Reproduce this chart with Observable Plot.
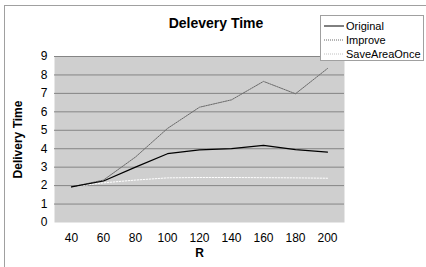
<!DOCTYPE html>
<html><head><meta charset="utf-8">
<script src="https://cdn.jsdelivr.net/npm/d3@7"></script>
<script src="https://cdn.jsdelivr.net/npm/@observablehq/plot@0.6"></script>
<style>
body{margin:0;background:#fff;font-family:"Liberation Sans",Arial,sans-serif;}
#wrap{position:relative;width:426px;height:267px;overflow:hidden;}
#border{position:absolute;left:4px;top:5px;width:440px;height:280px;border:1px solid #a0a0a0;box-sizing:border-box;}
#title{position:absolute;left:0;width:432px;top:15px;text-align:center;font-weight:bold;font-size:14px;}
#legend{position:absolute;left:320px;top:15px;width:104px;height:46px;border:1px solid #a0a0a0;background:#fff;box-sizing:border-box;font-size:11px;}
.li{position:absolute;left:3px;height:14px;display:flex;align-items:center;}
.li svg{margin-right:2px;}
</style></head>
<body><div id="wrap"><div id="border"></div><div id="chart"></div><div id="title">Delevery Time</div><div id="legend"></div></div>
<script>
const categories = [40, 60, 80, 100, 120, 140, 160, 180, 200];
const original = [1.93, 2.25, 3.0, 3.73, 3.94, 4.01, 4.18, 3.95, 3.82];
const improve = [1.93, 2.3, 3.55, 5.1, 6.25, 6.65, 7.65, 6.98, 8.35];
const saveAreaOnce = [1.93, 2.15, 2.3, 2.42, 2.44, 2.44, 2.43, 2.42, 2.4];
const yTicks = [0,1,2,3,4,5,6,7,8,9];
const seriesNames = ["Original", "Improve", "SaveAreaOnce"];
const seriesValues = [original, improve, saveAreaOnce];
const seriesStroke = ["#000", "#6a6a6a", "#ffffff"];
const legendStroke = ["#000", "#6a6a6a", "#c0c0c0"];
const seriesDash = [null, "1.5,1", "1.5,1.5"];
const seriesWidth = [1.25, 1, 1];

const rows = [];
seriesNames.forEach((s, i) => categories.forEach((c, j) => rows.push({series: s, R: c, v: seriesValues[i][j]})));

const W = 426, H = 267;
const chart = Plot.plot({
  width: W, height: H,
  marginLeft: 54, marginRight: 82, marginTop: 56, marginBottom: 45,
  style: {fontFamily: "'Liberation Sans', Arial, sans-serif", fontSize: "12px", background: "transparent", color: "#000"},
  x: {type: "point", domain: categories, padding: 0.5, label: null},
  y: {domain: [0, 9], label: null},
  marks: [
    Plot.frame({fill: "url(#chk)", stroke: null}),
    Plot.ruleY(yTicks.filter(d => d > 0), {stroke: "#858585", strokeWidth: 1}),
    ...seriesNames.map((s, i) => Plot.line(rows.filter(d => d.series === s), {
      x: "R", y: "v", stroke: seriesStroke[i], strokeWidth: seriesWidth[i], strokeDasharray: seriesDash[i]
    })).reverse(),
    Plot.axisY({ticks: yTicks, tickSize: 0, tickPadding: 7, fontSize: 12, label: null}),
    Plot.axisX({tickSize: 0, tickPadding: 11, fontSize: 12, label: null}),
    Plot.text(["R"], {frameAnchor: "bottom", dy: 34, fontWeight: "bold", fontSize: 12, text: d => d}),
    Plot.text(["Delivery Time"], {frameAnchor: "left", dx: -36, textAnchor: "middle", rotate: -90, fontWeight: "bold", fontSize: 12, text: d => d})
  ]
});
const svg = d3.select(chart);
const pat = svg.insert("defs", ":first-child").append("pattern")
  .attr("id", "chk").attr("width", 2).attr("height", 2).attr("patternUnits", "userSpaceOnUse");
pat.append("rect").attr("width", 2).attr("height", 2).attr("fill", "#f8f8f8");
pat.append("rect").attr("width", 1).attr("height", 1).attr("fill", "#a6a6a6");
pat.append("rect").attr("x", 1).attr("y", 1).attr("width", 1).attr("height", 1).attr("fill", "#a6a6a6");
document.getElementById("chart").appendChild(chart);

const lg = document.getElementById("legend");
seriesNames.forEach((s, i) => {
  const d = document.createElement("div");
  d.className = "li";
  d.style.top = (3 + i * 14) + "px";
  d.innerHTML = `<svg width="20" height="4"><line x1="0" x2="20" y1="2" y2="2" stroke="${legendStroke[i]}" stroke-width="1" ${seriesDash[i] ? `stroke-dasharray="1,1"` : ""}/></svg><span>${s}</span>`;
  lg.appendChild(d);
});
</script></body></html>
